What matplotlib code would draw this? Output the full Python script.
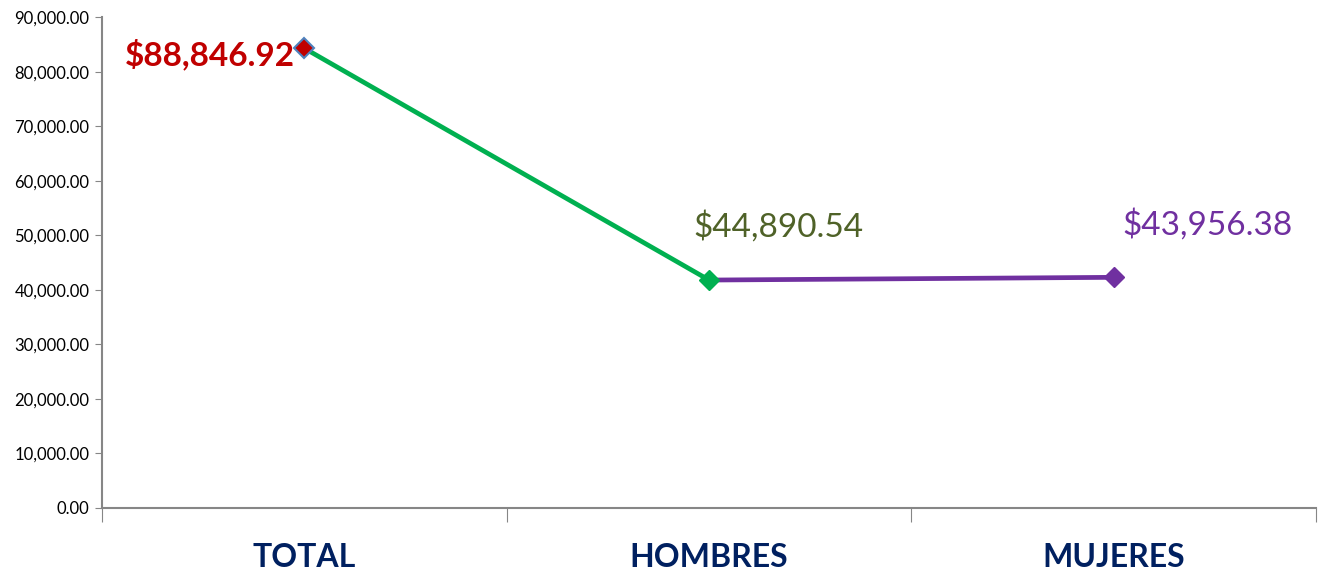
import matplotlib.pyplot as plt
from matplotlib.ticker import FuncFormatter

categorias = ["TOTAL", "HOMBRES", "MUJERES"]
valores = [84300, 41800, 42300]
etiquetas = ["$88,846.92", "$44,890.54", "$43,956.38"]

plt.rcParams['font.family'] = ['Lato', 'DejaVu Sans']

fig = plt.figure(figsize=(13.22, 5.74), dpi=100)
ax = fig.add_axes([0.0772, 0.115, 0.9183, 0.855])

x = list(range(len(categorias)))
ax.plot(x[:2], valores[:2], color="#00B050", lw=3.4, solid_capstyle='butt', zorder=2)
ax.plot(x[1:], valores[1:], color="#7030A0", lw=3.4, solid_capstyle='butt', zorder=2)
ax.plot(x[0], valores[0], marker='D', ms=10, color="#C00000", mec="#4F81BD", mew=1.5, zorder=3)
ax.plot(x[1], valores[1], marker='D', ms=10, color="#00B050", mec="#00B050", zorder=3)
ax.plot(x[2], valores[2], marker='D', ms=10, color="#7030A0", mec="#7030A0", zorder=3)

ax.annotate(etiquetas[0], (x[0], valores[0]), xytext=(-10, -6), textcoords='offset pixels',
            ha='right', va='center', fontsize=24, fontweight='bold', color="#C00000")
ax.annotate(etiquetas[1], (x[1], valores[1]), xytext=(-16, 54), textcoords='offset pixels',
            ha='left', va='center', fontsize=24, color="#4F6228")
ax.annotate(etiquetas[2], (x[2], valores[2]), xytext=(9, 53), textcoords='offset pixels',
            ha='left', va='center', fontsize=24, color="#7030A0")

ax.set_xlim(-0.5, 2.5)
ax.set_ylim(0, 90000)
ax.set_yticks(range(0, 90001, 10000))
ax.yaxis.set_major_formatter(FuncFormatter(lambda v, p: f"{v:,.2f}"))
ax.tick_params(axis='y', labelsize=12, length=5, color="#868686", pad=4)

ax.set_xticks([-0.5, 0.5, 1.5, 2.5])
ax.set_xticklabels([])
ax.tick_params(axis='x', which='major', length=10, color="#868686")
ax.set_xticks(x, minor=True)
ax.set_xticklabels(categorias, minor=True)
ax.tick_params(axis='x', which='minor', length=0, pad=25, labelsize=23,
               labelcolor="#002060")
for lbl in ax.get_xticklabels(minor=True):
    lbl.set_fontweight('bold')

for s in ['top', 'right']:
    ax.spines[s].set_visible(False)
for s in ['left', 'bottom']:
    ax.spines[s].set_color("#868686")
    ax.spines[s].set_linewidth(1.5)

fig.savefig("out.png", dpi=100)
